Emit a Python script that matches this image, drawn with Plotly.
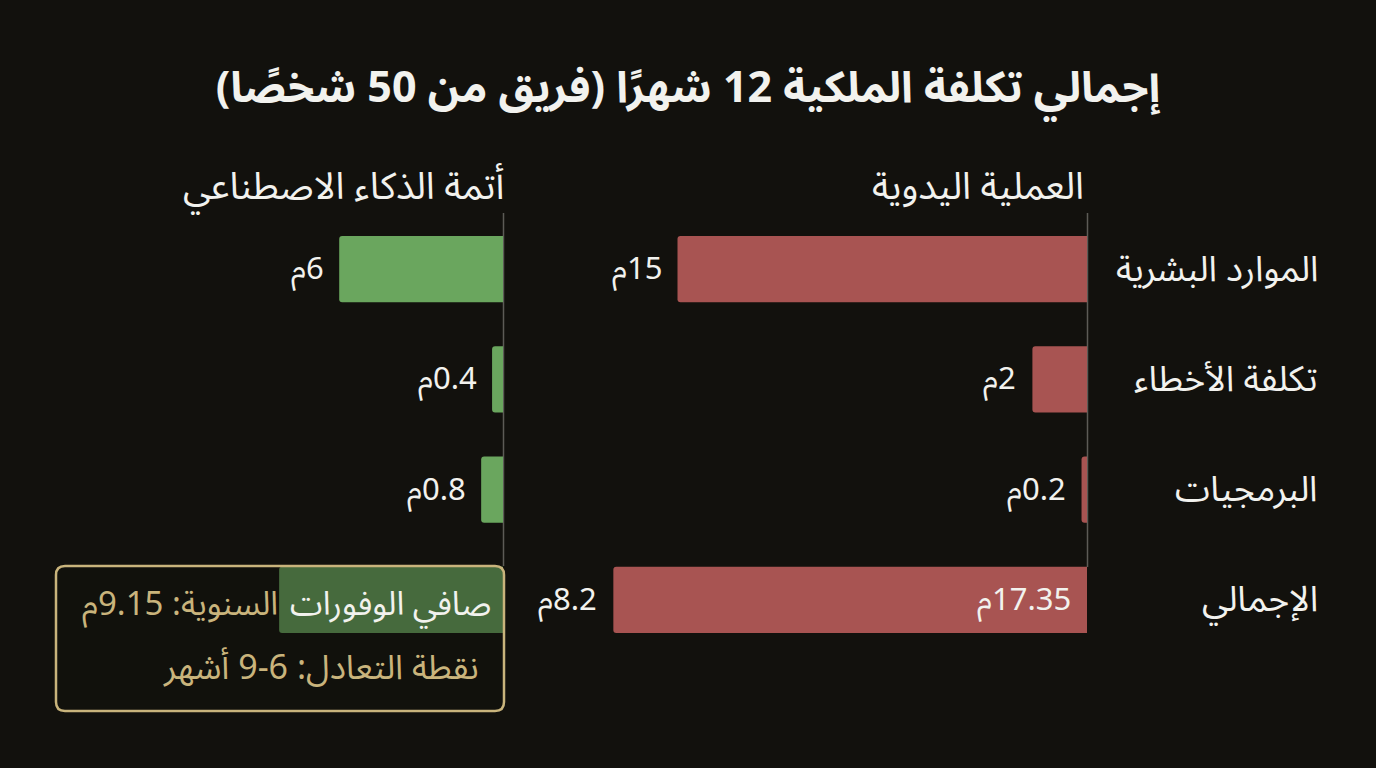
import plotly.graph_objects as go

W, H = 1376, 768

def px(x):
    return x / W

def py(y):
    return 1 - y / H

RLM = "\u200f"

def rtl(s):
    return RLM + s + RLM

# ---------------- data ----------------
categories = ["الموارد البشرية", "تكلفة الأخطاء", "البرمجيات", "الإجمالي"]
manual_values = [15, 2, 0.2, 17.35]
ai_values = [6, 0.4, 0.8, 8.2]
panel_titles = ["أتمة الذكاء الاصطناعي", "العملية اليدوية"]
chart_title = "إجمالي تكلفة الملكية 12 شهرًا (فريق من 50 شخصًا)"
currency_suffix = "م"
break_even_text = "6-9 أشهر"
net_savings = round(manual_values[-1] - ai_values[-1], 2)

def money(v):
    return rtl(f"{v:g}{currency_suffix}")

# ---------------- style ----------------
BG = "#12110d"
GREEN = "#6aa65e"
RED = "#a85452"
WHITE = "#f2f2ee"
GOLD = "#c9b47c"
AXIS = "#5c5b56"
FONT = "Noto Sans Arabic, DejaVu Sans, Noto Sans, sans-serif"
VAL = 31
CAT = 35.5
HDR = 37.5
TTL = 43

K = 27.3  # px per unit
left_dom = (40, 503)
right_dom = (540, 1087)
R_left = (left_dom[1] - left_dom[0]) / K
R_right = (right_dom[1] - right_dom[0]) / K

fig = go.Figure()

fig.add_trace(go.Bar(
    y=categories, x=ai_values, orientation="h",
    xaxis="x", yaxis="y", marker=dict(color=GREEN, line=dict(width=0)),
    width=0.6, hoverinfo="skip", showlegend=False,
))
fig.add_trace(go.Bar(
    y=categories, x=manual_values, orientation="h",
    xaxis="x2", yaxis="y", marker=dict(color=RED, line=dict(width=0)),
    width=0.6, hoverinfo="skip", showlegend=False,
))

def lab(**kw):
    d = dict(showarrow=False, yanchor="middle")
    d.update(kw)
    return d

annotations = []
for cat, v in zip(categories[:-1], ai_values[:-1]):
    annotations.append(lab(x=v, y=cat, xref="x", yref="y", text=money(v),
                           xanchor="right", xshift=-13,
                           font=dict(size=VAL, color=WHITE, family=FONT)))
for cat, v in zip(categories[:-1], manual_values[:-1]):
    annotations.append(lab(x=v, y=cat, xref="x2", yref="y", text=money(v),
                           xanchor="right", xshift=-14,
                           font=dict(size=VAL, color=WHITE, family=FONT)))
annotations.append(lab(x=0, y=categories[-1], xref="x2", yref="y", text=money(manual_values[-1]),
                       xanchor="right", xshift=-14,
                       font=dict(size=VAL, color=WHITE, family=FONT)))
annotations.append(lab(x=manual_values[-1], y=categories[-1], xref="x2", yref="y",
                       text=money(ai_values[-1]), xanchor="right", xshift=-14,
                       font=dict(size=VAL, color=WHITE, family=FONT)))
for cat in categories:
    annotations.append(lab(x=px(1320), y=cat, xref="paper", yref="y", text=rtl(cat),
                           xanchor="right", font=dict(size=CAT, color=WHITE, family=FONT)))
annotations.append(lab(x=px(506), y=py(187), xref="paper", yref="paper", text=rtl(panel_titles[0]),
                       xanchor="right", font=dict(size=HDR, color=WHITE, family=FONT)))
annotations.append(lab(x=px(1086), y=py(187), xref="paper", yref="paper", text=rtl(panel_titles[1]),
                       xanchor="right", font=dict(size=HDR, color=WHITE, family=FONT)))
annotations.append(lab(x=px(493), y=py(604), xref="paper", yref="paper", text=rtl("صافي الوفورات"),
                       xanchor="right", font=dict(size=33, color=WHITE, family=FONT)))
annotations.append(lab(x=px(280), y=py(604), xref="paper", yref="paper",
                       text=rtl(f"السنوية: {net_savings:g}{currency_suffix}"),
                       xanchor="right", font=dict(size=33, color=GOLD, family=FONT)))
annotations.append(lab(x=px(481), y=py(668), xref="paper", yref="paper",
                       text=rtl(f"نقطة التعادل: {break_even_text}"),
                       xanchor="right", font=dict(size=34, color=GOLD, family=FONT)))

def rounded_rect(x0, y0, x1, y1, r):
    pts = [
        f"M {px(x0 + r)} {py(y0)}",
        f"L {px(x1 - r)} {py(y0)}",
        f"Q {px(x1)} {py(y0)} {px(x1)} {py(y0 + r)}",
        f"L {px(x1)} {py(y1 - r)}",
        f"Q {px(x1)} {py(y1)} {px(x1 - r)} {py(y1)}",
        f"L {px(x0 + r)} {py(y1)}",
        f"Q {px(x0)} {py(y1)} {px(x0)} {py(y1 - r)}",
        f"L {px(x0)} {py(y0 + r)}",
        f"Q {px(x0)} {py(y0)} {px(x0 + r)} {py(y0)}",
        "Z",
    ]
    return " ".join(pts)

shapes = [
    dict(type="line", xref="paper", yref="paper", x0=px(503.5), x1=px(503.5),
         y0=py(213), y1=py(566), line=dict(color=AXIS, width=1.5), layer="below"),
    dict(type="line", xref="paper", yref="paper", x0=px(1087.5), x1=px(1087.5),
         y0=py(213), y1=py(567), line=dict(color=AXIS, width=1.5), layer="below"),
    dict(type="path", xref="paper", yref="paper", path=rounded_rect(56, 566, 504, 711, 9),
         fillcolor="rgba(18,17,13,0.40)", line=dict(color=GOLD, width=2.5), layer="above"),
]

ydom = (py(655), py(214))
fig.update_layout(
    width=W, height=H,
    paper_bgcolor=BG, plot_bgcolor=BG,
    margin=dict(l=0, r=0, t=0, b=0),
    barcornerradius=3,
    title=dict(text=rtl(chart_title), x=0.5, xanchor="center", y=py(87), yanchor="middle",
               font=dict(size=TTL, color=WHITE, family=FONT, weight="bold")),
    xaxis=dict(domain=[px(left_dom[0]), px(left_dom[1])], range=[R_left, 0],
               showgrid=False, zeroline=False, showticklabels=False, ticks="", showline=False,
               fixedrange=True),
    xaxis2=dict(domain=[px(right_dom[0]), px(right_dom[1])], range=[R_right, 0], anchor="y",
                showgrid=False, zeroline=False, showticklabels=False, ticks="", showline=False,
                fixedrange=True),
    yaxis=dict(domain=list(ydom), categoryorder="array", categoryarray=categories,
               range=[3.5, -0.5], showgrid=False, zeroline=False, showticklabels=False,
               ticks="", showline=False, fixedrange=True),
    annotations=annotations,
    shapes=shapes,
    font=dict(family=FONT, color=WHITE),
)

post = (
    "document.body.style.margin='0';"
    "document.body.style.padding='0';"
    "document.body.style.overflow='hidden';"
    f"document.body.style.background='{BG}';"
    f"document.documentElement.style.background='{BG}';"
)

fig.write_html("out.html", post_script=post, config={"displayModeBar": False})
